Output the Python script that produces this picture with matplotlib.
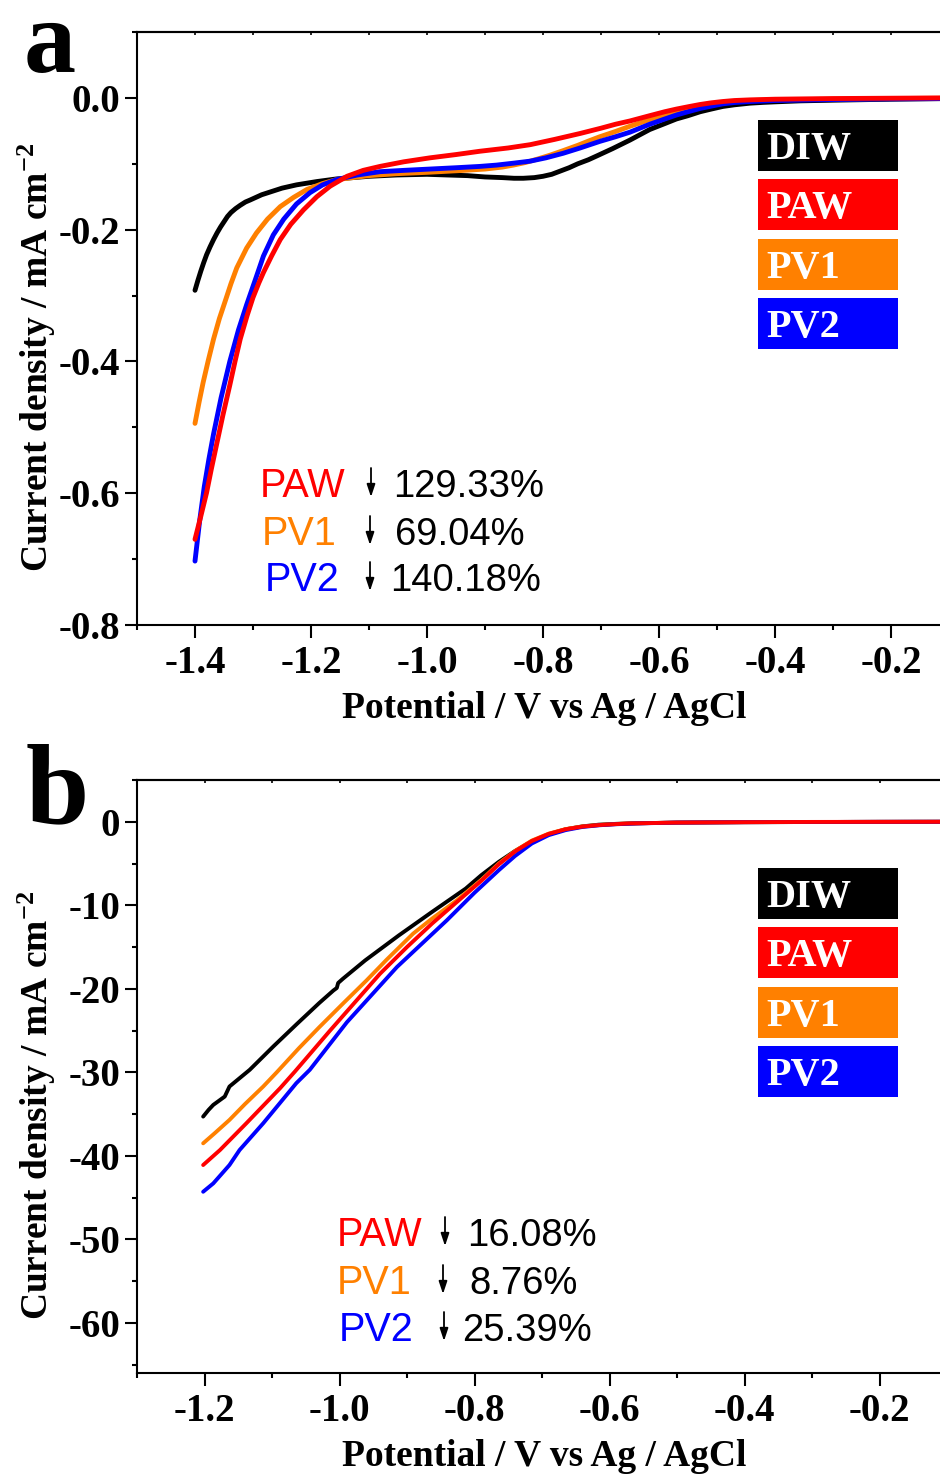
import matplotlib
matplotlib.use('Agg')
import matplotlib.pyplot as plt
from matplotlib.patches import Rectangle, FancyArrowPatch
from matplotlib.ticker import MultipleLocator, FormatStrFormatter

W, H = 940, 1474  # output size in pixels (dpi 100)

plt.rcParams['font.family'] = 'serif'
plt.rcParams['font.serif'] = ['Liberation Serif', 'DejaVu Serif']
plt.rcParams['font.weight'] = 'bold'
plt.rcParams['axes.labelweight'] = 'bold'
plt.rcParams['font.size'] = 28
plt.rcParams['axes.unicode_minus'] = False
plt.rcParams['mathtext.fontset'] = 'custom'
plt.rcParams['mathtext.rm'] = 'Liberation Serif:bold'
plt.rcParams['mathtext.it'] = 'Liberation Serif:bold'
plt.rcParams['mathtext.bf'] = 'Liberation Serif:bold'
plt.rcParams['mathtext.default'] = 'rm'

names = ['DIW', 'PAW', 'PV1', 'PV2']
colours = {'DIW': '#000000', 'PAW': '#ff0000', 'PV1': '#ff8000', 'PV2': '#0000ff'}
draw_order = ['DIW', 'PV1', 'PV2', 'PAW']

# ---- panel a : potential (V) / current density (mA cm-2) ----
a_diw_v = [-1.400, -1.395, -1.390, -1.385, -1.380, -1.374, -1.368, -1.362, -1.356,
           -1.350, -1.344, -1.338, -1.330, -1.322, -1.313, -1.305, -1.295, -1.285,
           -1.271, -1.250, -1.225, -1.190, -1.156, -1.100, -1.052, -1.000, -0.966,
           -0.930, -0.900, -0.870, -0.850, -0.834, -0.815, -0.800, -0.785, -0.770,
           -0.755, -0.740, -0.722, -0.707, -0.680, -0.650, -0.616, -0.590, -0.570,
           -0.550, -0.529, -0.510, -0.490, -0.470, -0.443, -0.420, -0.400, -0.357,
           -0.300, -0.200, -0.100]
a_diw_j = [-0.292, -0.277, -0.263, -0.250, -0.238, -0.226, -0.215, -0.205, -0.196,
           -0.188, -0.180, -0.174, -0.168, -0.163, -0.158, -0.155, -0.151, -0.147,
           -0.143, -0.137, -0.132, -0.127, -0.123, -0.119, -0.117, -0.116, -0.117,
           -0.118, -0.120, -0.121, -0.122, -0.122, -0.121, -0.119, -0.116, -0.111,
           -0.106, -0.100, -0.094, -0.088, -0.077, -0.064, -0.048, -0.039, -0.032,
           -0.027, -0.021, -0.017, -0.013, -0.0105, -0.008, -0.0068, -0.006, -0.0045,
           -0.0035, -0.002, -0.001]

a_paw_v = [-1.400, -1.390, -1.380, -1.372, -1.363, -1.352, -1.340, -1.331, -1.322,
           -1.310, -1.300, -1.290, -1.282, -1.268, -1.253, -1.235, -1.213, -1.190,
           -1.167, -1.138, -1.110, -1.081, -1.040, -0.995, -0.950, -0.909, -0.860,
           -0.822, -0.780, -0.736, -0.700, -0.675, -0.650, -0.616, -0.590, -0.570,
           -0.550, -0.529, -0.510, -0.490, -0.470, -0.443, -0.400, -0.300, -0.200,
           -0.100]
a_paw_j = [-0.670, -0.635, -0.599, -0.564, -0.527, -0.482, -0.436, -0.400, -0.366,
           -0.330, -0.303, -0.281, -0.265, -0.240, -0.215, -0.192, -0.170, -0.150,
           -0.134, -0.119, -0.110, -0.104, -0.097, -0.091, -0.086, -0.081, -0.076,
           -0.071, -0.063, -0.054, -0.046, -0.040, -0.035, -0.027, -0.021, -0.017,
           -0.0135, -0.010, -0.0075, -0.0055, -0.004, -0.003, -0.002, -0.001, -0.0005,
           0.000]

a_pv1_v = [-1.400, -1.393, -1.386, -1.377, -1.368, -1.358, -1.347, -1.338, -1.328,
           -1.311, -1.294, -1.275, -1.253, -1.230, -1.207, -1.180, -1.156, -1.100,
           -1.052, -1.000, -0.937, -0.900, -0.870, -0.851, -0.830, -0.810, -0.788,
           -0.765, -0.740, -0.720, -0.702, -0.675, -0.650, -0.616, -0.590, -0.570,
           -0.550, -0.529, -0.510, -0.490, -0.470, -0.443, -0.400, -0.300, -0.200,
           -0.100]
a_pv1_j = [-0.494, -0.462, -0.432, -0.398, -0.366, -0.335, -0.306, -0.282, -0.258,
           -0.228, -0.205, -0.184, -0.165, -0.151, -0.139, -0.130, -0.124, -0.118,
           -0.115, -0.113, -0.110, -0.108, -0.105, -0.102, -0.098, -0.093, -0.087,
           -0.080, -0.072, -0.065, -0.059, -0.051, -0.043, -0.033, -0.026, -0.021,
           -0.017, -0.013, -0.010, -0.007, -0.0055, -0.004, -0.003, -0.002, -0.001,
           -0.0005]

a_pv2_v = [-1.400, -1.392, -1.384, -1.376, -1.368, -1.355, -1.340, -1.325, -1.311,
           -1.296, -1.282, -1.265, -1.247, -1.225, -1.202, -1.180, -1.156, -1.120,
           -1.081, -1.040, -0.995, -0.950, -0.909, -0.880, -0.850, -0.822, -0.795,
           -0.765, -0.736, -0.702, -0.675, -0.650, -0.616, -0.590, -0.570, -0.550,
           -0.529, -0.510, -0.490, -0.470, -0.443, -0.400, -0.300, -0.200, -0.100]
a_pv2_j = [-0.703, -0.642, -0.590, -0.548, -0.510, -0.455, -0.400, -0.352, -0.314,
           -0.276, -0.240, -0.208, -0.184, -0.161, -0.144, -0.132, -0.124, -0.117,
           -0.112, -0.110, -0.108, -0.106, -0.104, -0.102, -0.099, -0.096, -0.091,
           -0.084, -0.076, -0.066, -0.059, -0.052, -0.040, -0.032, -0.026, -0.021,
           -0.016, -0.0125, -0.009, -0.007, -0.0055, -0.004, -0.0025, -0.0015, -0.001]

# ---- panel b ----
b_diw_v = [-1.202, -1.194, -1.187, -1.170, -1.163, -1.133, -1.098, -1.063, -1.030,
           -1.009, -1.004, -1.002, -0.995, -0.962, -0.912, -0.863, -0.813, -0.790,
           -0.764, -0.740, -0.715, -0.690, -0.665, -0.640, -0.616, -0.590, -0.567,
           -0.500, -0.400, -0.300, -0.200, -0.100]
b_diw_j = [-35.3, -34.5, -33.9, -32.9, -31.7, -29.7, -26.9, -24.2, -21.7,
           -20.2, -19.9, -19.3, -18.8, -16.6, -13.6, -10.8, -8.0, -6.4,
           -4.8, -3.5, -2.35, -1.5, -0.9, -0.55, -0.35, -0.25, -0.19,
           -0.1, -0.05, -0.03, -0.01, 0.0]

b_paw_v = [-1.202, -1.177, -1.138, -1.088, -1.066, -1.014, -0.977, -0.940, -0.900,
           -0.863, -0.826, -0.789, -0.764, -0.739, -0.715, -0.690, -0.665, -0.640,
           -0.616, -0.590, -0.570, -0.500, -0.400, -0.300, -0.200, -0.100]
b_paw_j = [-41.1, -39.3, -36.1, -31.9, -29.9, -25.0, -21.6, -18.2, -15.0,
           -12.2, -9.6, -7.0, -5.1, -3.5, -2.3, -1.45, -0.9, -0.58,
           -0.4, -0.28, -0.2, -0.1, -0.05, -0.02, -0.01, 0.0]

b_pv1_v = [-1.202, -1.185, -1.163, -1.140, -1.113, -1.093, -1.060, -1.030, -0.994,
           -0.960, -0.930, -0.891, -0.863, -0.826, -0.789, -0.764, -0.739, -0.715,
           -0.690, -0.665, -0.640, -0.616, -0.590, -0.570, -0.500, -0.400, -0.300,
           -0.200, -0.100]
b_pv1_j = [-38.5, -37.3, -35.7, -33.8, -31.7, -30.0, -27.1, -24.6, -21.7,
           -19.0, -16.5, -13.4, -11.6, -9.4, -6.9, -5.0, -3.45, -2.25,
           -1.42, -0.88, -0.56, -0.39, -0.27, -0.2, -0.1, -0.05, -0.03,
           -0.01, 0.0]

b_pv2_v = [-1.202, -1.187, -1.163, -1.148, -1.113, -1.064, -1.044, -0.989, -0.915,
           -0.841, -0.800, -0.764, -0.740, -0.715, -0.690, -0.665, -0.640, -0.615,
           -0.591, -0.560, -0.500, -0.400, -0.300, -0.200, -0.100]
b_pv2_j = [-44.3, -43.3, -41.1, -39.3, -36.1, -31.3, -29.7, -24.0, -17.4,
           -11.8, -8.5, -5.8, -4.1, -2.6, -1.6, -1.0, -0.62, -0.42,
           -0.3, -0.2, -0.1, -0.05, -0.03, -0.01, 0.0]

# decrease of current density vs DIW (PAW, PV1, PV2)
a_drop = ['129.33%', '69.04%', '140.18%']
b_drop = ['16.08%', '8.76%', '25.39%']

curves_a = {'DIW': (a_diw_v, a_diw_j), 'PAW': (a_paw_v, a_paw_j),
            'PV1': (a_pv1_v, a_pv1_j), 'PV2': (a_pv2_v, a_pv2_j)}
curves_b = {'DIW': (b_diw_v, b_diw_j), 'PAW': (b_paw_v, b_paw_j),
            'PV1': (b_pv1_v, b_pv1_j), 'PV2': (b_pv2_v, b_pv2_j)}


def px(x, y):
    """pixel position (from top-left) -> figure fraction"""
    return x / W, 1 - y / H


fig = plt.figure(figsize=(W / 100, H / 100), dpi=100)

# right edges sit just past the figure edge, as in the original
ax_a = fig.add_axes([137 / W, 1 - 625 / H, (949 - 137) / W, (625 - 32) / H])
ax_b = fig.add_axes([137 / W, 1 - 1373 / H, (947 - 137) / W, (1373 - 780) / H])


def setup(ax, curves, lw, xlim, ylim, ymaj, ymin, yfmt, top_px, label_px):
    for n in draw_order:
        v, j = curves[n]
        ax.plot(v, j, '-', color=colours[n], lw=lw,
                solid_capstyle='round', solid_joinstyle='round')
    ax.set_xlim(*xlim)
    ax.set_ylim(*ylim)
    for s in ax.spines.values():
        s.set_linewidth(1.5)
    ax.xaxis.set_major_locator(MultipleLocator(0.2))
    ax.xaxis.set_minor_locator(MultipleLocator(0.1))
    ax.yaxis.set_major_locator(MultipleLocator(ymaj))
    ax.yaxis.set_minor_locator(MultipleLocator(ymin))
    ax.xaxis.set_major_formatter(FormatStrFormatter('%.1f'))
    ax.yaxis.set_major_formatter(FormatStrFormatter(yfmt))
    ax.tick_params(which='both', direction='out', width=1.5)
    ax.tick_params(which='major', length=9)
    ax.tick_params(which='minor', length=3.6)
    ax.tick_params(axis='x', pad=5.5)
    ax.tick_params(axis='y', pad=3)
    # short inward ticks on the top edge
    sec = ax.secondary_xaxis('top')
    sec.xaxis.set_major_locator(MultipleLocator(0.1))
    sec.tick_params(direction='in', length=2.5, width=1.2, labeltop=False)
    sec.spines['top'].set_linewidth(1.5)

    ax.set_xlabel('Potential / V vs Ag / AgCl', fontsize=27, va='baseline')
    ax.xaxis.set_label_coords(*px(544, label_px), transform=fig.transFigure)
    ax.set_ylabel(r'Current density / mA cm$^{-2}$', fontsize=27,
                  va='center', ha='center')
    ax.yaxis.set_label_coords(*px(37, top_px + 325), transform=fig.transFigure)

    # colour-block legend
    for k, n in enumerate(names):
        t = top_px + 88 + k * 59.3
        fig.add_artist(Rectangle(px(758, t + 51), 140 / W, 51 / H,
                                 transform=fig.transFigure,
                                 facecolor=colours[n], edgecolor='none'))
        fig.text(*px(766, t + 39), n, color='white', fontsize=29,
                 fontweight='bold', va='baseline')


setup(ax_a, curves_a, 3.5, (-1.5, -0.1), (-0.8, 0.1), 0.2, 0.1, '%.1f', 32, 718)
setup(ax_b, curves_b, 2.8, (-1.3, -0.1), (-66, 5), 10, 5, '%d', 780, 1466)


def drops(rows, values):
    for (lx, base, arx, vx), n, val in zip(rows, ['PAW', 'PV1', 'PV2'], values):
        fig.text(*px(lx, base), n, color=colours[n], fontsize=28.5,
                 family='Liberation Sans', fontweight='normal', va='baseline')
        fig.text(*px(vx, base), val, color='black', fontsize=27.5,
                 family='Liberation Sans', fontweight='normal', va='baseline')
        fig.add_artist(FancyArrowPatch(
            px(arx, base - 29), px(arx, base), transform=fig.transFigure,
            arrowstyle='-|>,head_length=0.75,head_width=0.25', mutation_scale=10,
            lw=1.3, color='black', shrinkA=0, shrinkB=0))


drops([(260, 497, 371, 393), (262, 545, 370, 395), (265, 591, 370, 390)], a_drop)
drops([(337, 1246, 445, 467), (337, 1294, 443, 469), (339, 1341, 444, 462)], b_drop)

fig.text(*px(24, 72), 'a', fontsize=75, fontweight='bold', va='baseline')
fig.text(*px(26, 823), 'b', fontsize=82, fontweight='bold', va='baseline')

fig.savefig('out.png', dpi=100)
